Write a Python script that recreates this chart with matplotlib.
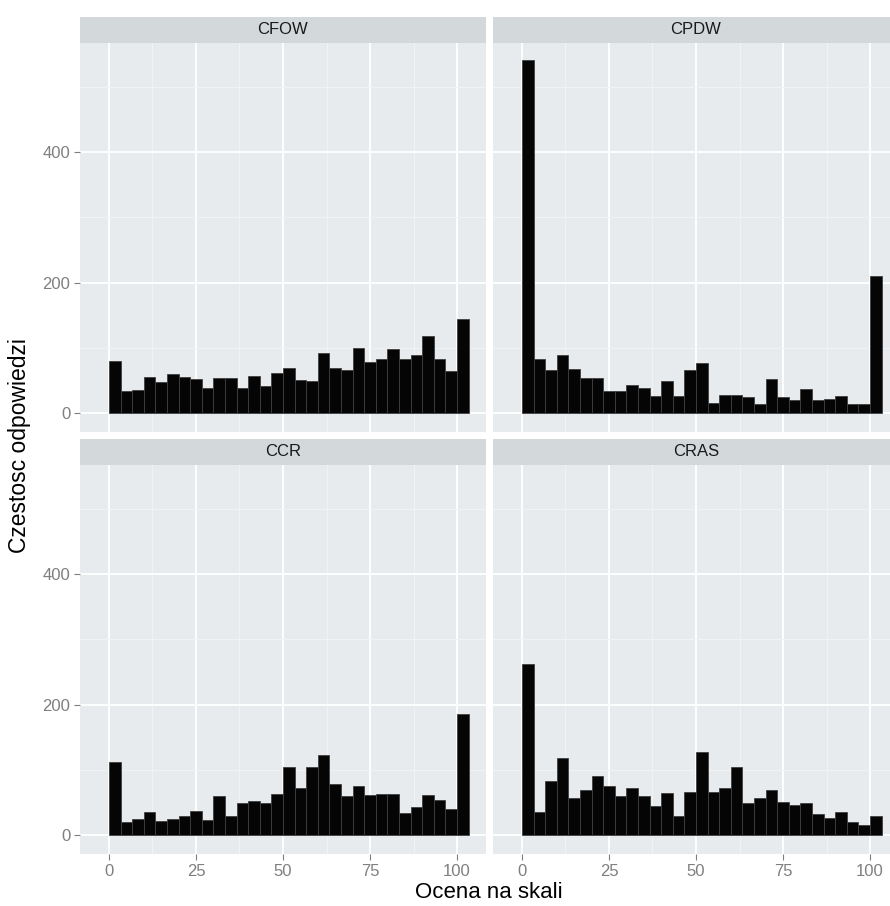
import numpy as np
import matplotlib.pyplot as plt

# liczebnosci w 31 przedzialach (szerokosc 100/30)
panels = ['CFOW', 'CPDW', 'CCR', 'CRAS']
cfow = [80, 34, 36, 56, 48, 61, 56, 53, 39, 55, 55, 39, 58, 42, 62, 70,
        51, 50, 93, 69, 67, 100, 79, 84, 98, 83, 90, 118, 83, 65, 144]
cpdw = [541, 84, 67, 89, 68, 54, 54, 34, 34, 43, 39, 26, 50, 26, 66, 77,
        16, 28, 28, 25, 14, 52, 25, 20, 37, 20, 22, 26, 14, 14, 210]
ccr = [112, 21, 25, 36, 22, 25, 30, 38, 24, 60, 30, 49, 53, 49, 64, 104,
       73, 105, 123, 78, 60, 75, 62, 63, 63, 34, 44, 62, 54, 40, 186]
cras = [262, 36, 83, 118, 58, 69, 91, 75, 61, 72, 61, 45, 65, 30, 67, 128,
        67, 72, 105, 50, 58, 70, 51, 47, 50, 33, 26, 36, 21, 16, 30]
counts = [cfow, cpdw, ccr, cras]

binwidth = 100 / 30
x_ticks = [0, 25, 50, 75, 100]
y_ticks = [0, 200, 400]

plt.rcParams['font.family'] = ['Liberation Sans', 'DejaVu Sans']

W, H = 890, 906
fig = plt.figure(figsize=(W / 100, H / 100), dpi=100)

panel_bg = '#e8ebed'
strip_bg = '#d3d9db'
tick_col = '#7f7f7f'

# pozycje paneli w pikselach: (lewo, gora)
lefts = [80, 493, 80, 493]
tops = [43, 43, 465, 465]
pw, ph = 406, 389
sh = 26

for i, name in enumerate(panels):
    l, t = lefts[i], tops[i]
    ax = fig.add_axes([l / W, (H - t - ph) / H, pw / W, ph / H])
    ax.set_facecolor(panel_bg)
    for s in ax.spines.values():
        s.set_visible(False)

    edges = np.arange(len(counts[i])) * binwidth
    ax.bar(edges, counts[i], width=binwidth, align='edge',
           color='#050505', edgecolor='#404040', linewidth=0.6, zorder=3)

    ax.set_xlim(-8.3, 108.3)
    ax.set_ylim(-28.4, 567)
    ax.set_xticks(x_ticks)
    ax.set_yticks(y_ticks)
    ax.set_xticks([12.5, 37.5, 62.5, 87.5], minor=True)
    ax.set_yticks([100, 300, 500], minor=True)
    ax.grid(which='major', color='white', linewidth=1.3, zorder=1)
    ax.grid(which='minor', color='#f1f3f4', linewidth=0.7, zorder=0)
    ax.set_axisbelow(True)
    ax.tick_params(which='minor', length=0)
    ax.tick_params(which='major', colors=tick_col, labelsize=12,
                   length=4, width=0.8, pad=3)

    if i % 2 == 1:
        ax.tick_params(axis='y', left=False, labelleft=False)
    if i < 2:
        ax.tick_params(axis='x', bottom=False, labelbottom=False)

    # pasek z nazwa panelu
    sax = fig.add_axes([l / W, (H - t) / H, pw / W, sh / H])
    sax.set_facecolor(strip_bg)
    sax.set_xticks([])
    sax.set_yticks([])
    for s in sax.spines.values():
        s.set_visible(False)
    sax.text(0.5, 0.5, name, ha='center', va='center', fontsize=12,
             color='#1a1a1a', transform=sax.transAxes)

fig.text(489 / W, 1 - 893 / H, 'Ocena na skali', ha='center', va='center',
         fontsize=16)
fig.text(20 / W, 1 - 446 / H, 'Czestosc odpowiedzi', ha='center',
         va='center', rotation=90, fontsize=16.5)

fig.savefig('out.png', dpi=100, facecolor='white')
